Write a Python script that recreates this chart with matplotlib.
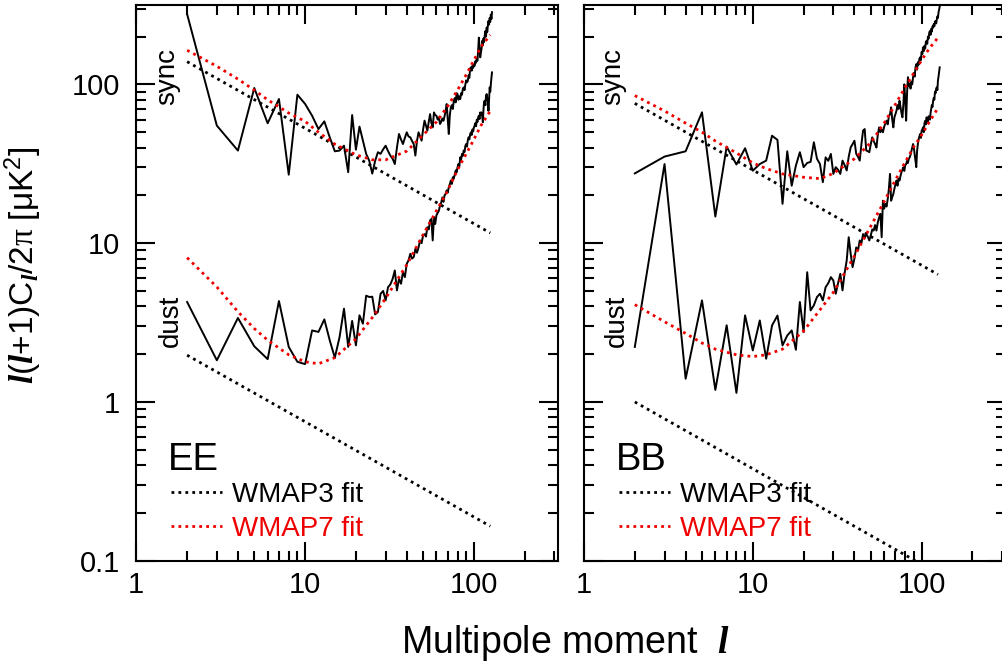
import matplotlib
matplotlib.use("Agg")
import matplotlib.pyplot as plt

plt.rcParams['font.family'] = ['Liberation Sans', 'DejaVu Sans']
plt.rcParams['mathtext.fontset'] = 'custom'
plt.rcParams['mathtext.rm'] = 'Liberation Sans'
plt.rcParams['mathtext.it'] = 'Liberation Serif:italic:bold'
plt.rcParams['mathtext.bf'] = 'Liberation Sans:bold'
plt.rcParams['mathtext.sf'] = 'Liberation Serif'

# ---------------- data ----------------
ell = list(range(2, 129))

ee_sync = [277, 55, 38.3, 94.9, 56.9, 80.9, 27.0, 86.1, 75.3,
           63.5, 52.3, 58.5, 46.4, 37.9, 38.3, 41.1, 28.0, 64.1, 38.8,
           54.2, 44.3, 36.5, 33.0, 27.4, 33.0, 37.4, 36.5, 39.0, 41.1,
           38.0, 35.6, 34.0, 31.5, 40.0, 48.7, 45.0, 42.1, 46.0, 49.9,
           47.0, 46.4, 44.0, 42.1, 35.6, 44.0, 49.9, 47.0, 44.2, 52.0,
           59.1, 55.0, 51.1, 58.0, 65.0, 57.0, 53.6, 66.6, 64.0, 63.5,
           60.0, 62.0, 56.3, 58.0, 61.0, 59.0, 63.0, 68.0, 75.2, 60.0,
           48.7, 64.0, 71.7, 74.0, 70.0, 78.9, 82.0, 77.0, 88.0, 86.9,
           80.0, 84.0, 80.8, 88.0, 86.0, 94.0, 95.7, 92.0, 100, 106,
           103, 105, 114, 110, 126, 128, 122, 131, 127, 133,
           131, 140, 137, 145, 141, 165, 197, 170, 148, 158,
           168, 188, 176, 195, 185, 205, 217, 200, 228, 214,
           235, 251, 238, 262, 248, 275, 258, 285]

ee_dust = [4.26, 1.83, 3.38, 2.24, 1.86, 4.32, 2.22, 1.79, 1.73,
           2.82, 2.76, 3.31, 2.44, 1.90, 2.56, 3.87, 2.22, 3.24, 2.27,
           3.51, 3.11, 4.67, 4.58, 4.60, 3.56, 3.68, 4.80, 5.00, 4.36,
           5.28, 5.50, 5.96, 6.73, 5.04, 5.96, 5.55, 6.57, 6.11, 7.40,
           7.80, 8.57, 8.00, 8.17, 9.20, 8.70, 9.40, 10.4, 10.0, 11.2,
           11.4, 11.0, 12.6, 12.2, 13.9, 14.2, 10.4, 14.6, 13.2, 15.0,
           15.5, 16.0, 17.2, 18.0, 19.4, 18.2, 20.0, 20.4, 21.5, 20.8,
           22.5, 23.5, 24.8, 23.6, 26.0, 25.5, 27.0, 28.7, 28.0, 30.1,
           31.5, 30.5, 34.7, 33.5, 36.5, 35.5, 38.3, 37.5, 41.0, 42.1,
           40.5, 44.5, 46.4, 45.0, 48.5, 49.9, 48.0, 52.0, 50.5, 53.6,
           55.0, 57.0, 54.5, 60.0, 58.0, 62.0, 63.5, 60.5, 66.6, 64.0,
           66.6, 63.0, 57.7, 70.0, 78.0, 78.9, 74.0, 85.0, 86.9, 82.0,
           78.0, 68.0, 80.0, 95.7, 90.0, 100, 110, 119]

bb_sync = [27.5, 35.1, 37.9, 66.7, 14.7, 40.5, 31.3, 39.6, 28.6,
           31.5, 33.1, 47.5, 44.7, 17.7, 37.9, 23.0, 30.8, 37.4, 30.1,
           32.0, 32.5, 43.2, 34.0, 31.5, 24.2, 34.7, 33.0, 36.5, 27.3,
           30.1, 29.0, 27.3, 33.1, 31.0, 28.7, 35.0, 40.1, 42.0, 44.2,
           36.5, 35.0, 33.1, 42.0, 51.1, 52.3, 38.3, 38.0, 37.4, 42.0,
           46.4, 44.0, 42.1, 40.0, 48.0, 53.6, 50.0, 52.0, 49.9, 54.0,
           57.0, 59.1, 56.0, 63.0, 65.0, 71.7, 60.0, 53.6, 62.0, 65.0,
           68.3, 74.0, 70.0, 78.9, 72.0, 66.0, 62.0, 75.0, 100, 80.0,
           59.1, 88.0, 111, 98.0, 100, 94.0, 104, 100, 111, 118,
           112, 128, 134, 124, 138, 133, 145, 148, 142, 160,
           155, 171, 162, 175, 168, 185, 188, 180, 200, 194,
           212, 217, 205, 224, 215, 232, 228, 240, 232, 248,
           251, 242, 255, 268, 262, 285, 295, 310]

bb_dust = [2.22, 31.5, 1.40, 4.36, 1.19, 3.04, 1.14, 3.51, 2.11,
           3.26, 1.87, 3.03, 3.50, 2.27, 2.62, 2.82, 2.13, 4.26, 2.75,
           6.56, 3.77, 4.06, 4.58, 4.80, 4.36, 5.28, 5.60, 6.11, 5.82,
           4.80, 5.60, 6.41, 5.04, 6.50, 7.78, 10.9, 8.57, 7.06, 8.00,
           9.40, 9.00, 10.4, 10.0, 11.4, 10.8, 11.4, 11.0, 10.4, 11.2,
           12.2, 12.0, 13.0, 12.0, 13.5, 14.5, 15.3, 10.9, 18.5, 16.5,
           17.7, 17.0, 19.0, 22.0, 27.3, 18.5, 19.5, 20.4, 22.0, 23.5,
           24.8, 23.0, 25.5, 24.8, 26.5, 28.0, 29.0, 30.1, 28.5, 31.0,
           31.5, 33.0, 32.0, 34.0, 34.7, 36.0, 38.0, 40.0, 42.1, 40.0,
           36.0, 33.0, 30.1, 38.0, 42.0, 45.0, 47.0, 48.7, 46.0, 51.0,
           52.0, 53.6, 50.0, 57.0, 59.0, 56.0, 62.0, 60.0, 58.0, 63.0,
           62.0, 60.0, 66.0, 70.0, 74.0, 72.0, 78.9, 82.0, 80.0, 90.0,
           88.0, 94.0, 95.7, 92.0, 106, 112, 120, 128]

fit_l = [2, 3, 4, 5, 6, 8, 10, 12, 15, 20, 25, 30, 40, 50, 60, 70, 80, 90, 100, 110, 125]
ee_sync_w7 = [164, 130, 108, 92, 80, 66, 58.5, 50, 42, 36, 33.5, 33.5, 38, 48, 58, 73, 92, 115, 142, 172, 205]
ee_dust_w7 = [8.1, 5.3, 3.7, 2.9, 2.45, 1.98, 1.79, 1.74, 1.9, 2.5, 3.4, 4.5, 7.3, 11.3, 16, 21.5, 29, 36.5, 45, 55, 68]
bb_sync_w7 = [85, 68, 57, 50, 44, 37, 32, 29.5, 27.3, 26, 25.5, 27.5, 34, 43, 57, 75, 96, 118, 142, 166, 197]
bb_dust_w7 = [4.1, 3.2, 2.7, 2.35, 2.15, 1.98, 1.93, 1.98, 2.15, 2.8, 3.8, 4.9, 8.3, 12.8, 18.3, 25, 32.5, 40.5, 48, 57, 71]

w3_l = [2, 125]
ee_sync_w3 = [139, 11.6]
ee_dust_w3 = [1.97, 0.165]
bb_sync_w3 = [75.9, 6.35]
bb_dust_w3 = [1.0, 0.083]

xticks = [1, 10, 100]
xticklabels = ['1', '10', '100']
yticks = [0.1, 1, 10, 100]
yticklabels = ['0.1', '1', '10', '100']

panels = [
    dict(name='EE', sync=ee_sync, dust=ee_dust, s7=ee_sync_w7, d7=ee_dust_w7, s3=ee_sync_w3, d3=ee_dust_w3),
    dict(name='BB', sync=bb_sync, dust=bb_dust, s7=bb_sync_w7, d7=bb_dust_w7, s3=bb_sync_w3, d3=bb_dust_w3),
]

# ---------------- figure ----------------
W, H = 1002, 664
fig = plt.figure(figsize=(W / 100, H / 100), dpi=100)

ax_left_px = [136.3, 584.0]
ax_top_px, ax_bot_px = 5.0, 560.7
ax_w_px = 422.0

dot = (0, (1, 1.5))
RED = '#ee0000'

for i, p in enumerate(panels):
    rect = [ax_left_px[i] / W, 1 - ax_bot_px / H, ax_w_px / W, (ax_bot_px - ax_top_px) / H]
    ax = fig.add_axes(rect)
    ax.set_xscale('log')
    ax.set_yscale('log')
    ax.set_xlim(1, 10 ** 2.5)
    ax.set_ylim(0.1, 10 ** 2.5)

    ax.plot(ell, p['sync'], color='black', lw=1.4, zorder=2)
    ax.plot(ell, p['dust'], color='black', lw=1.4, zorder=2)
    h3, = ax.plot(w3_l, p['s3'], color='black', lw=2.0, linestyle=dot, zorder=3)
    ax.plot(w3_l, p['d3'], color='black', lw=2.0, linestyle=dot, zorder=3)
    h7, = ax.plot(fit_l, p['s7'], color=RED, lw=2.0, linestyle=dot, zorder=4)
    ax.plot(fit_l, p['d7'], color=RED, lw=2.0, linestyle=dot, zorder=4)

    ax.set_xticks(xticks)
    ax.set_xticklabels(xticklabels)
    ax.set_yticks(yticks)
    ax.set_yticklabels(yticklabels)
    ax.tick_params(which='both', direction='in', top=True, right=True, width=1.5)
    ax.tick_params(which='major', length=13.5, labelsize=21)
    ax.tick_params(which='minor', length=7)
    ax.tick_params(axis='x', which='major', pad=7.5)
    ax.tick_params(axis='y', which='major', pad=12)
    if i == 1:
        ax.tick_params(labelleft=False)
    for s in ax.spines.values():
        s.set_linewidth(1.5)

    ax.text(0.075, 0.163, p['name'], transform=ax.transAxes, fontsize=27.5,
            ha='left', va='baseline')
    ax.text(0.0905 if i == 0 else 0.0853, 0.820, 'sync', transform=ax.transAxes,
            fontsize=20, rotation=90, rotation_mode='anchor', ha='left', va='baseline')
    ax.text(0.0995 if i == 0 else 0.0955, 0.385, 'dust', transform=ax.transAxes,
            fontsize=20, rotation=90, rotation_mode='anchor', ha='left', va='baseline')

    leg = ax.legend([h3, h7], ['WMAP3 fit', 'WMAP7 fit'], loc='upper left',
                    bbox_to_anchor=(0.0822, 0.1416), frameon=False, fontsize=20,
                    handlelength=1.83, handletextpad=0.36, labelspacing=0.27,
                    borderpad=0, borderaxespad=0)
    leg.get_texts()[1].set_color(RED)

fig.text(566 / W, 1 - 653 / H, 'Multipole moment  $l$', fontsize=27,
         ha='center', va='baseline')
fig.text(34 / W, 1 - 265 / H,
         r'$l(l\mathrm{+1)C}_{l}\mathrm{/2}\mathsf{\pi}\ \mathrm{[\mu K^{2}]}$',
         fontsize=24, rotation=90, rotation_mode='anchor', ha='center', va='baseline')

fig.savefig('out.png', dpi=100)
